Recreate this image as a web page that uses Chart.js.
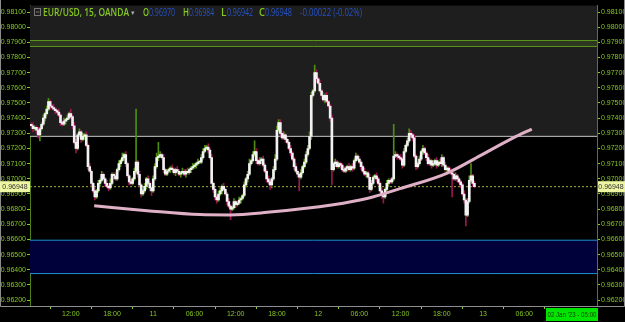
<!DOCTYPE html>
<html>
<head>
<meta charset="utf-8">
<script src="https://cdn.jsdelivr.net/npm/chart.js@4.4.1/dist/chart.umd.min.js"></script>
<style>
  html, body { margin: 0; padding: 0; background: #000; }
  #wrap { position: relative; width: 625px; height: 322px; }
</style>
</head>
<body>
<div id="wrap"><canvas id="fxChart"></canvas></div>
<script>
// EUR/USD, 15 min bars. Hours are counted from 00:00 on the 10th.
const firstBarHour = 6.25;
const barStep = 0.25;

const opens = [
  .9736,.9735,.9733,.9734,.9732,.9729,.9733,.9736,.9740,.9743,
  .9746,.9751,.9748,.9747,.9746,.9745,.9744,.9742,.9737,.9736,
  .9738,.9739,.9740,.9743,.9741,.9735,.9724,.9720,.9729,.9731,
  .9726,.9728,.9729,.9722,.9708,.9705,.9697,.9692,.9688,.9692,
  .9697,.9699,.9703,.9700,.9697,.9695,.9694,.9697,.9703,.9702,
  .9700,.9706,.9710,.9712,.9714,.9716,.9710,.9702,.9698,.9697,
  .9700,.9705,.9711,.9703,.9696,.9690,.9692,.9695,.9700,.9697,
  .9694,.9692,.9700,.9708,.9714,.9715,.9716,.9714,.9706,.9703,
  .9705,.9706,.9707,.9706,.9704,.9706,.9705,.9703,.9704,.9705,
  .9703,.9705,.9704,.9706,.9707,.9708,.9709,.9710,.9711,.9711,
  .9714,.9718,.9720,.9721,.9719,.9714,.9697,.9693,.9688,.9686,
  .9690,.9692,.9695,.9693,.9690,.9685,.9682,.9680,.9681,.9685,
  .9683,.9684,.9686,.9687,.9689,.9696,.9700,.9703,.9710,.9712,
  .9716,.9718,.9712,.9710,.9712,.9713,.9709,.9705,.9700,.9698,
  .9696,.9700,.9706,.9713,.9732,.9737,.9730,.9727,.9729,.9726,
  .9724,.9720,.9717,.9713,.9708,.9705,.9703,.9701,.9704,.9708,
  .9711,.9716,.9720,.9728,.9755,.9758,.9770,.9766,.9763,.9758,
  .9755,.9752,.9755,.9751,.9748,.9740,.9706,.9710,.9711,.9708,
  .9710,.9709,.9706,.9705,.9707,.9708,.9706,.9708,.9707,.9712,
  .9715,.9713,.9711,.9708,.9705,.9703,.9704,.9701,.9693,.9697,
  .9701,.9702,.9700,.9697,.9692,.9689,.9688,.9693,.9697,.9699,
  .9698,.9700,.9715,.9716,.9715,.9714,.9713,.9709,.9718,.9722,
  .9725,.9730,.9729,.9727,.9715,.9708,.9710,.9713,.9718,.9720,
  .9717,.9714,.9710,.9712,.9709,.9710,.9712,.9709,.9711,.9710,
  .9714,.9709,.9706,.9707,.9705,.9704,.9703,.9700,.9702,.9700,
  .9698,.9696,.9690,.9686,.9676,.9685,.9699,.9702,.9697
];
const closes = [
  .9735,.9733,.9734,.9732,.9729,.9733,.9736,.9740,.9743,.9746,
  .9751,.9748,.9747,.9746,.9745,.9744,.9742,.9737,.9736,.9738,
  .9739,.9740,.9743,.9741,.9735,.9724,.9720,.9729,.9731,.9726,
  .9728,.9729,.9722,.9708,.9705,.9697,.9692,.9688,.9692,.9697,
  .9699,.9703,.9700,.9697,.9695,.9694,.9697,.9703,.9702,.9700,
  .9706,.9710,.9712,.9714,.9716,.9710,.9702,.9698,.9697,.9700,
  .9705,.9711,.9703,.9696,.9690,.9692,.9695,.9700,.9697,.9694,
  .9692,.9700,.9708,.9714,.9715,.9716,.9714,.9706,.9703,.9705,
  .9706,.9707,.9706,.9704,.9706,.9705,.9703,.9704,.9705,.9703,
  .9705,.9704,.9706,.9707,.9708,.9709,.9710,.9711,.9711,.9714,
  .9718,.9720,.9721,.9719,.9714,.9697,.9693,.9688,.9686,.9690,
  .9692,.9695,.9693,.9690,.9685,.9682,.9680,.9681,.9685,.9683,
  .9684,.9686,.9687,.9689,.9696,.9700,.9703,.9710,.9712,.9716,
  .9718,.9712,.9710,.9712,.9713,.9709,.9705,.9700,.9698,.9696,
  .9700,.9706,.9713,.9732,.9737,.9730,.9727,.9729,.9726,.9724,
  .9720,.9717,.9713,.9708,.9705,.9703,.9701,.9704,.9708,.9711,
  .9716,.9720,.9728,.9755,.9758,.9770,.9766,.9763,.9758,.9755,
  .9752,.9755,.9751,.9748,.9740,.9706,.9710,.9711,.9708,.9710,
  .9709,.9706,.9705,.9707,.9708,.9706,.9708,.9707,.9712,.9715,
  .9713,.9711,.9708,.9705,.9703,.9704,.9701,.9693,.9697,.9701,
  .9702,.9700,.9697,.9692,.9689,.9688,.9693,.9697,.9699,.9698,
  .9700,.9715,.9716,.9715,.9714,.9713,.9709,.9718,.9722,.9725,
  .9730,.9729,.9727,.9715,.9708,.9710,.9713,.9718,.9720,.9717,
  .9714,.9710,.9712,.9709,.9710,.9712,.9709,.9711,.9710,.9714,
  .9709,.9706,.9707,.9705,.9704,.9703,.9700,.9702,.9700,.9698,
  .9696,.9690,.9686,.9676,.9685,.9699,.9702,.9697,.96948
];
// wick lengths in pips (0.0001) above / below the body
const upperWick = [
  1,2,1,1,2,1,1,2,1,2, 2,1,1,2,1,1,2,1,1,2, 1,2,1,3,1,2,2,1,2,1, 2,1,2,1,2,1,1,2,1,2,
  1,2,1,1,2,1,3,1,1,2, 1,2,1,3,1,2,1,1,2,1, 2,35,1,2,1,1,2,1,2,1, 1,2,2,3,9,2,1,2,1,1,
  1,1,2,1,1,2,1,1,2,1, 1,2,1,1,2,1,1,2,1,2, 2,2,1,2,1,2,1,1,1,2, 2,1,2,1,1,2,1,1,2,1,
  1,2,1,1,2,1,2,3,1,2, 7,2,1,2,1,2,1,1,2,1, 1,2,3,3,2,2,1,2,1,1, 1,2,1,1,2,1,1,2,1,2,
  2,2,3,2,1,5,2,1,2,1, 2,1,2,1,1,2,1,2,1,1, 1,1,2,1,1,2,1,2,1,2, 1,2,1,1,2,1,1,2,2,1,
  1,2,1,1,2,1,1,2,1,1, 1,21,2,1,1,2,1,2,1,2, 3,2,1,2,1,1,2,1,2,1, 1,2,1,1,2,1,2,1,2,2,
  1,2,1,1,2,1,1,2,1,1, 1,1,2,1,2,3,8,1,1.4
];
const lowerWick = [
  1,2,1,2,2,4,1,1,2,1, 1,2,1,1,2,1,1,2,1,1, 2,1,1,1,2,1,3,1,1,2, 1,2,1,2,1,2,1,2,1,1,
  2,1,1,2,1,2,1,1,2,1, 1,1,2,1,1,2,1,2,1,1, 1,1,2,1,2,1,1,2,1,2, 3,1,1,1,2,1,1,2,1,1,
  1,2,1,1,2,1,1,2,1,1, 2,1,1,2,1,1,2,1,1,1, 1,1,1,2,1,1,2,2,2,1, 1,2,1,1,2,1,7,1,1,2,
  1,1,2,1,1,1,2,1,1,1, 1,2,1,1,2,1,1,2,1,3, 2,1,1,1,1,2,1,1,2,1, 1,2,1,2,1,2,9,1,1,1,
  1,1,1,2,1,1,2,1,1,2, 1,2,1,1,2,10,1,2,1,1, 2,1,1,1,2,1,1,2,1,1, 1,1,2,1,1,2,1,2,1,1,
  1,2,1,1,2,4,1,1,2,1, 1,1,1,2,1,1,2,1,1,1, 1,1,2,1,2,1,1,1,2,1, 2,1,1,2,1,1,2,1,1,2,
  1,1,2,1,1,15,1,1,2,1, 2,1,2,7,1,1,1,2,0.6
];

// drawn levels and zones
const zoneLine = 0.9728;            // grey line, shaded above
const greenBand = [0.97912, 0.97873];
const navyZone = [0.96595, 0.96375];
const lastPrice = 0.96948;

// hand-drawn arc
const arcHours  = [15.4, 23.1, 30.8, 35.2, 40.6, 50.2, 55.1, 59.9, 66.8, 71.6, 76.4, 79.1];
const arcPrices = [0.96822, 0.96790, 0.96764, 0.96762, 0.96779, 0.96829, 0.96870, 0.96935, 0.97038, 0.97153, 0.97270, 0.97328];

// axes
const priceTicks = [0.981, 0.980, 0.979, 0.978, 0.977, 0.976, 0.975, 0.974, 0.973, 0.972,
                    0.971, 0.970, 0.969, 0.968, 0.967, 0.966, 0.965, 0.964, 0.963, 0.962];
const timeTicks = [12, 18, 24, 30, 36, 42, 48, 54, 60, 66, 72, 78];
const timeLabels = ['12:00', '18:00', '11', '06:00', '12:00', '18:00', '12', '06:00', '12:00', '18:00', '13', '06:00'];
const xMin = 6.06, xMax = 88.59;
const yMin = 0.96161, yMax = 0.98145;

const green = '#86c824';
const candleUp = '#4f8c12';
const candleDown = '#9c1554';

const wicks = [], bodies = [], wickColors = [];
opens.forEach(function(o, i) {
    const c = closes[i];
    const x = firstBarHour + i * barStep;
    const top = Math.max(o, c), bot = Math.min(o, c);
    wicks.push({ x: x, y: [bot - lowerWick[i] / 10000, top + upperWick[i] / 10000] });
    bodies.push({ x: x, y: [o, c] });
    wickColors.push(c >= o ? candleUp : candleDown);
});

function level(v) {
    return [{ x: xMin, y: v }, { x: xMax, y: v }];
}

const overlay = {
    id: 'overlay',
    afterDraw(chart) {
        const ctx = chart.ctx;
        const area = chart.chartArea;
        const py = chart.scales.y.getPixelForValue(lastPrice);
        ctx.save();

        // outer frame
        ctx.strokeStyle = '#8e8e8e';
        ctx.lineWidth = 1;
        ctx.beginPath();
        ctx.moveTo(0.5, 0);
        ctx.lineTo(0.5, area.bottom + 0.5);
        ctx.lineTo(624.5, area.bottom + 0.5);
        ctx.lineTo(624.5, 0);
        ctx.stroke();

        // last price tags
        ctx.fillStyle = '#eef6a4';
        ctx.fillRect(0, py - 5.5, area.left, 11);
        ctx.fillRect(area.right + 1, py - 5.5, chart.width - area.right - 1, 11);
        ctx.fillStyle = '#333';
        ctx.font = '7px "Liberation Sans"';
        ctx.textBaseline = 'middle';
        ctx.textAlign = 'center';
        ctx.fillText(lastPrice.toFixed(5), area.left / 2, py + 0.5);
        ctx.fillText(lastPrice.toFixed(5), (area.right + chart.width) / 2, py + 0.5);

        // crosshair date tag
        ctx.fillStyle = '#00e400';
        ctx.fillRect(546, area.bottom + 2, 52, 13);
        ctx.fillStyle = '#1a3a00';
        ctx.font = '6.5px "Liberation Sans"';
        ctx.fillText("02 Jan '23 - 05:00", 572, area.bottom + 9, 49);

        // symbol header
        ctx.textAlign = 'left';
        ctx.textBaseline = 'alphabetic';
        ctx.strokeStyle = '#777';
        ctx.strokeRect(34.5, 8.5, 6, 7);
        ctx.beginPath();
        ctx.moveTo(36, 12); ctx.lineTo(39.5, 12);
        ctx.stroke();
        ctx.fillStyle = green;
        ctx.font = '600 10px "Open Sans"';
        ctx.fillText('EUR/USD, 15, OANDA', 43, 16, 86);
        ctx.fillStyle = '#aaa';
        ctx.font = '7px "DejaVu Sans"';
        ctx.fillText('\u25BE', 131, 15);

        // label, label x, value x, value, value width
        const parts = [['O', 143, 149, '0.96970', 26], ['H', 183, 189, '0.96984', 25],
                       ['L', 221, 227, '0.96942', 26], ['C', 259, 265, '0.96948', 27]];
        parts.forEach(function(p) {
            ctx.font = '600 10px "Open Sans"';
            ctx.fillStyle = green;
            ctx.fillText(p[0], p[1], 16, 6);
            ctx.font = '10px "Open Sans"';
            ctx.fillStyle = '#2452c8';
            ctx.fillText(p[3], p[2], 16, p[4]);
        });
        ctx.fillText('-0.00022 (-0.02%)', 300, 16, 62);
        ctx.restore();
    }
};

document.addEventListener('DOMContentLoaded', function() {
    const ctx = document.getElementById('fxChart');
    new Chart(ctx, {
        type: 'bar',
        data: {
            datasets: [
                { type: 'line', data: level(zoneLine), borderColor: '#c4c4c4', borderWidth: 1,
                  fill: 'end', backgroundColor: '#1e1e1e', pointRadius: 0, order: 9 },
                { type: 'line', data: level(greenBand[0]), borderColor: '#5c961c', borderWidth: 1,
                  fill: false, pointRadius: 0, order: 8 },
                { type: 'line', data: level(greenBand[1]), borderColor: '#5c961c', borderWidth: 1,
                  fill: '-1', backgroundColor: '#2c3620', pointRadius: 0, order: 8 },
                { type: 'line', data: level(navyZone[0]), borderColor: '#1f8fcf', borderWidth: 1,
                  fill: false, pointRadius: 0, order: 7 },
                { type: 'line', data: level(navyZone[1]), borderColor: '#1f8fcf', borderWidth: 1,
                  fill: '-1', backgroundColor: '#00003a', pointRadius: 0, order: 7 },
                { type: 'line', data: level(lastPrice), borderColor: '#a3b43a', borderWidth: 1,
                  borderDash: [2, 2], fill: false, pointRadius: 0, order: 6 },
                { data: wicks, backgroundColor: wickColors, barThickness: 1, grouped: false, order: 3 },
                { data: bodies, backgroundColor: '#f2f2f2', barThickness: 2, minBarLength: 1,
                  grouped: false, order: 2 },
                { type: 'line', data: arcHours.map(function(h, i) { return { x: h, y: arcPrices[i] }; }),
                  borderColor: '#dfb0c6', borderWidth: 3, tension: 0.4, cubicInterpolationMode: 'monotone',
                  fill: false, pointRadius: 0, order: 1 }
            ]
        },
        options: {
            responsive: true,
            maintainAspectRatio: false,
            animation: false,
            layout: { padding: 0 },
            plugins: { legend: { display: false }, tooltip: { enabled: false } },
            scales: {
                x: {
                    type: 'linear', min: xMin, max: xMax, offset: false,
                    afterBuildTicks: function(scale) { scale.ticks = timeTicks.map(function(v) { return { value: v }; }); },
                    afterFit: function(scale) { scale.height = 16; },
                    ticks: {
                        color: green, font: { size: 7, family: 'Liberation Sans' }, padding: 1, maxRotation: 0,
                        autoSkip: false,
                        callback: function(v) { return timeLabels[timeTicks.indexOf(v)]; }
                    },
                    grid: { drawOnChartArea: false, tickLength: 3, color: green },
                    border: { color: '#8e8e8e' }
                },
                y: {
                    position: 'left', min: yMin, max: yMax,
                    afterBuildTicks: function(scale) { scale.ticks = priceTicks.map(function(v) { return { value: v }; }); },
                    afterFit: function(scale) { scale.width = 30; },
                    ticks: { color: green, font: { size: 7, family: 'Liberation Sans' }, padding: 1,
                             callback: function(v) { return v.toFixed(5); } },
                    grid: { drawOnChartArea: false, tickLength: 3, color: green },
                    border: { color: '#4f7f17' }
                },
                y2: {
                    position: 'right', min: yMin, max: yMax,
                    afterBuildTicks: function(scale) { scale.ticks = priceTicks.map(function(v) { return { value: v }; }); },
                    afterFit: function(scale) { scale.width = 28; },
                    ticks: { color: green, font: { size: 7, family: 'Liberation Sans' }, padding: 1,
                             callback: function(v) { return v.toFixed(5); } },
                    grid: { drawOnChartArea: false, tickLength: 3, color: green },
                    border: { color: '#4f7f17' }
                }
            }
        },
        plugins: [overlay]
    });
});
</script>
</body>
</html>
